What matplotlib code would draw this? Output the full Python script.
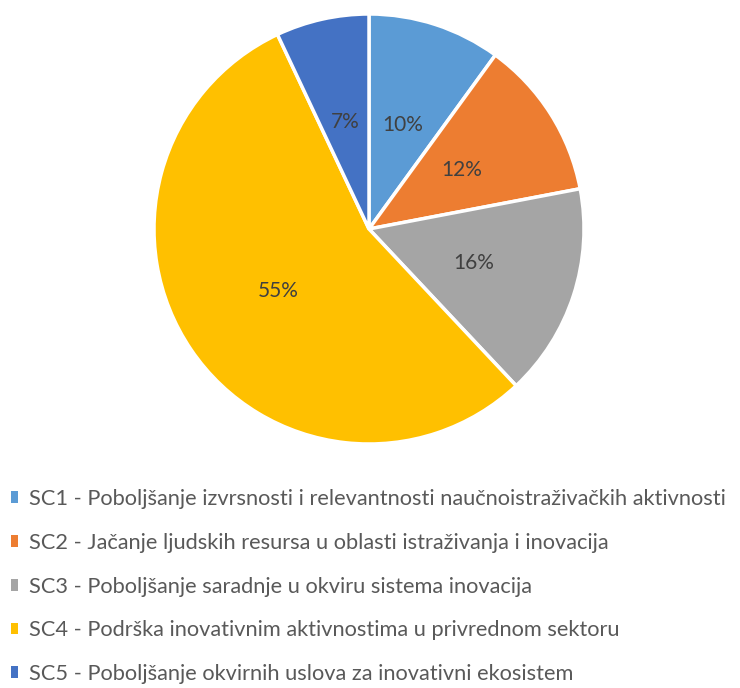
import matplotlib
matplotlib.use("Agg")
import matplotlib.pyplot as plt
from matplotlib.patches import Patch

labels = [
    "SC1 - Poboljšanje izvrsnosti i relevantnosti naučnoistraživačkih aktivnosti",
    "SC2 - Jačanje ljudskih resursa u oblasti istraživanja i inovacija",
    "SC3 - Poboljšanje saradnje u okviru sistema inovacija",
    "SC4 - Podrška inovativnim aktivnostima u privrednom sektoru",
    "SC5 - Poboljšanje okvirnih uslova za inovativni ekosistem",
]
shares = [10, 12, 16, 55, 7]
colors = ["#5B9BD5", "#ED7D31", "#A5A5A5", "#FFC000", "#4472C4"]

plt.rcParams["font.family"] = ["Lato", "DejaVu Sans"]

fig = plt.figure(figsize=(7.4, 6.88), dpi=100)
W, H = 740, 688
cx, cy, r = 369, 229, 215
ax = fig.add_axes([(cx - r) / W, (H - cy - r) / H, 2 * r / W, 2 * r / H])

wedges, texts, autotexts = ax.pie(
    shares, colors=colors, startangle=90, counterclock=False,
    autopct="%d%%", pctdistance=0.51,
    wedgeprops=dict(edgecolor="white", linewidth=2.5),
    textprops=dict(color="#404040", fontsize=15),
)
ax.set_xlim(-1, 1)
ax.set_ylim(-1, 1)
ax.set_aspect("equal")

handles = [Patch(facecolor=c, edgecolor="none") for c in colors]
fig.legend(
    handles, labels, loc="upper left", bbox_to_anchor=(11 / W, 1 - 489 / H),
    frameon=False, fontsize=15.7, labelcolor="#595959",
    handlelength=0.34, handleheight=0.45, handletextpad=0.5,
    labelspacing=1.09, borderpad=0, borderaxespad=0,
)

fig.savefig("out.png", dpi=100)
